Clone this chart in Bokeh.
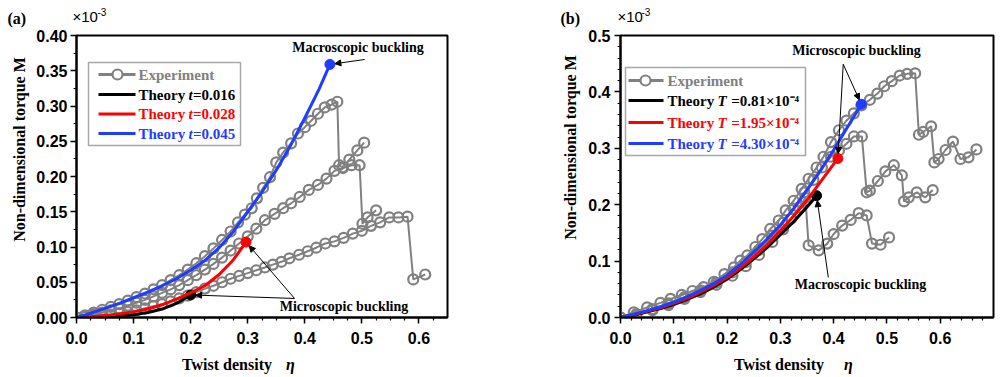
import math
from bokeh.plotting import figure
from bokeh.models import (Range1d, SingleIntervalTicker, PrintfTickFormatter, Label,
                          BoxAnnotation, Arrow, NormalHead)
from bokeh.layouts import row, column
from bokeh.embed import file_html
from bokeh.resources import INLINE

GREY = "#808080"
RED = "#ff0000"
BLUE = "#1f3cff"
BLACK = "#000000"
SERIF = "Liberation Serif"
SANS = "Liberation Sans"

# ---------------- Panel (a) data ----------------
a_exp1_x = [0, .015, .03, .045, .06, .075, .09, .105, .12, .135, .15, .165, .18, .195, .21,
            .225, .24, .255, .27, .283, .295, .307, .316, .327, .339, .350, .362, .376, .388, .400,
            .411, .423, .435, .447, .457, .460, .466, .478, .492, .504]
a_exp1_y = [0, .003, .007, .011, .015, .019, .024, .029, .034, .040, .046, .053, .060, .068, .077,
            .087, .098, .110, .122, .135, .146, .155, .169, .184, .199, .220, .234, .247, .261, .270,
            .279, .289, .298, .302, .306, .216, .213, .224, .237, .248]
a_exp2_x = [0, .015, .03, .045, .06, .075, .09, .105, .12, .135, .15, .165, .18, .195, .21,
            .225, .24, .255, .27, .285, .30, .315, .330, .347, .362, .376, .391, .407, .423, .438,
            .452, .467, .482, .496, .501, .510, .525]
a_exp2_y = [0, .002, .004, .007, .010, .013, .017, .021, .025, .030, .035, .040, .046, .053, .060,
            .068, .076, .085, .095, .105, .115, .126, .138, .147, .155, .162, .171, .181, .188, .197,
            .208, .212, .216, .216, .133, .142, .152]
a_exp3_x = [0, .015, .03, .045, .06, .075, .09, .105, .12, .135, .15, .165, .18, .195, .21,
            .225, .24, .255, .27, .285, .300, .315, .330, .344, .359, .373, .390, .405, .420, .436,
            .452, .468, .484, .500, .516, .532, .548, .564, .580, .590, .611]
a_exp3_y = [0, .001, .002, .003, .004, .006, .008, .010, .013, .016, .019, .023, .027, .031, .036,
            .041, .045, .050, .055, .059, .063, .067, .071, .075, .079, .084, .089, .094, .099, .105,
            .108, .113, .119, .123, .130, .135, .142, .142, .143, .054, .061]

a_blue_x = [0, .025, .05, .075, .1, .125, .15, .175, .2, .225, .25, .275, .3, .325, .35, .375, .4, .425, .444]
a_blue_y = [0, .006, .013, .020, .028, .036, .045, .055, .067, .081, .099, .122, .150, .178, .209, .244, .283, .324, .359]
a_red_x = [0, .025, .05, .075, .1, .125, .15, .175, .2, .225, .25, .275, .297]
a_red_y = [0, .001, .003, .005, .008, .012, .018, .026, .035, .045, .061, .082, .107]
a_black_x = [0, .025, .05, .075, .1, .125, .15, .175, .2]
a_black_y = [0, .000, .001, .002, .004, .007, .012, .020, .032]
a_labels = ["Theory", "t", "=0.016", "=0.028", "=0.045"]

# ---------------- Panel (b) data ----------------
b_exp1_x = [0, .025, .05, .075, .094, .115, .135, .156, .175, .195, .213, .225, .238, .253, .266,
            .281, .297, .310, .325, .340, .353, .368, .381, .395, .410, .424, .438, .452, .468, .482,
            .495, .509, .524, .538, .553, .560, .568, .583, .589, .597, .610, .624, .638, .653, .668]
b_exp1_y = [0, .009, .018, .026, .033, .040, .047, .054, .063, .077, .089, .101, .110, .125, .139,
            .157, .172, .190, .207, .228, .246, .266, .285, .311, .332, .349, .362, .376, .386, .397,
            .410, .419, .429, .432, .433, .324, .329, .339, .275, .281, .297, .312, .281, .284, .298]
b_exp2_x = [0, .03, .06, .09, .12, .15, .18, .21, .235, .26, .285, .305, .325, .345, .362,
            .378, .395, .410, .424, .438, .453, .462, .468, .483, .497, .513, .528, .532, .541, .556,
            .572, .586]
b_exp2_y = [0, .006, .015, .025, .036, .048, .062, .080, .098, .120, .145, .168, .193, .222, .244,
            .266, .285, .296, .308, .321, .321, .222, .225, .242, .259, .270, .252, .206, .213, .222,
            .213, .226]
b_exp3_x = [0, .03, .06, .09, .12, .15, .18, .21, .235, .26, .285, .305, .32, .335, .347,
            .353, .372, .388, .400, .416, .432, .447, .462, .472, .488, .504]
b_exp3_y = [0, .005, .013, .022, .033, .045, .058, .074, .091, .111, .134, .156, .175, .195, .212,
            .128, .119, .131, .148, .163, .173, .185, .181, .131, .129, .142]

b_blue_x = [0, .025, .05, .075, .1, .125, .15, .175, .2, .225, .25, .275, .3, .325, .35, .375, .4, .425, .452]
b_blue_y = [0, .006, .012, .019, .027, .037, .048, .060, .075, .094, .116, .139, .164, .193, .226, .260, .297, .336, .378]
b_red_x = [0, .025, .05, .075, .1, .125, .15, .175, .2, .225, .25, .275, .3, .325, .35, .375, .408]
b_red_y = [0, .005, .011, .017, .025, .034, .045, .057, .071, .088, .107, .129, .154, .180, .208, .240, .282]
b_black_x = [0, .025, .05, .075, .1, .125, .15, .175, .2, .225, .25, .275, .3, .325, .35, .368]
b_black_y = [0, .004, .010, .016, .023, .032, .042, .054, .068, .085, .104, .124, .147, .170, .196, .216]
b_labels = ["Theory", "T", "\u00a0=0.81×10⁻⁴", "\u00a0=1.95×10⁻⁴", "\u00a0=4.30×10⁻⁴"]

MAIN_H = 322  # 7 top + 282 frame + 33 bottom


def make_fig(width, xmax, ymax, xint, xminor, yint, yminor, yfmt, left, right, ystand):
    p = figure(width=width, height=MAIN_H, x_range=Range1d(0, xmax), y_range=Range1d(0, ymax),
               output_backend="svg", toolbar_location=None,
               min_border_left=left, min_border_right=right,
               min_border_top=7, min_border_bottom=33)
    p.xgrid.visible = False
    p.ygrid.visible = False
    p.outline_line_color = "black"
    p.outline_line_width = 2
    p.outline_line_alpha = 1
    p.background_fill_color = "white"
    p.border_fill_color = "white"
    p.xaxis.ticker = SingleIntervalTicker(interval=xint, num_minor_ticks=xminor)
    p.yaxis.ticker = SingleIntervalTicker(interval=yint, num_minor_ticks=yminor)
    p.xaxis.formatter = PrintfTickFormatter(format="%.1f")
    p.yaxis.formatter = PrintfTickFormatter(format=yfmt)
    for ax in (p.xaxis[0], p.yaxis[0]):
        ax.axis_line_width = 2
        ax.axis_line_color = "black"
        ax.major_tick_in = 0
        ax.major_tick_out = 6
        ax.minor_tick_in = 0
        ax.minor_tick_out = 3
        ax.major_tick_line_width = 1.5
        ax.minor_tick_line_width = 1.2
        ax.major_tick_line_color = "black"
        ax.minor_tick_line_color = "black"
        ax.major_label_text_font = SANS
        ax.major_label_text_font_style = "bold"
        ax.major_label_text_font_size = "16px"
        ax.major_label_text_color = "black"
    p.xaxis.major_label_standoff = 8
    p.yaxis.major_label_standoff = ystand
    return p


def text_fig(width, height):
    f = figure(width=width, height=height, x_range=Range1d(0, width), y_range=Range1d(0, height),
               output_backend="svg", toolbar_location=None, title=None,
               x_axis_type=None, y_axis_type=None, min_border=0)
    f.xgrid.visible = False
    f.ygrid.visible = False
    f.outline_line_color = None
    f.background_fill_color = "white"
    f.border_fill_color = "white"
    return f


def lab(p, x, y, text, size="15px", color="black", style="bold", font=SERIF,
        align="left", angle=0.0):
    p.add_layout(Label(x=x, y=y, x_units="screen", y_units="screen", text=text,
                       text_font=font, text_font_style=style, text_font_size=size,
                       text_color=color, text_align=align, text_baseline="middle",
                       angle=angle))


def sbox(p, l, r, b, t, fill="white", line=None, lw=1.0, radius=0, falpha=1.0):
    p.add_layout(BoxAnnotation(left=l, right=r, bottom=b, top=t,
                               left_units="screen", right_units="screen",
                               bottom_units="screen", top_units="screen",
                               fill_color=fill, fill_alpha=falpha,
                               line_color=line, line_width=lw, line_alpha=1 if line else 0,
                               border_radius=radius))


def arrow(p, x0, y0, x1, y1, sx, sy, gap=5):
    dx = (x0 - x1) * sx
    dy = (y0 - y1) * sy
    d = math.hypot(dx, dy)
    xe = x1 + (x0 - x1) * gap / d
    ye = y1 + (y0 - y1) * gap / d
    p.add_layout(Arrow(end=NormalHead(size=6, fill_color="black", line_color="black", line_width=1),
                       x_start=x0, y_start=y0, x_end=xe, y_end=ye,
                       line_color="black", line_width=1))


def draw_exp(p, xs, ys):
    p.line(xs, ys, line_color=GREY, line_width=2)
    p.scatter(xs, ys, marker="circle", size=10, line_color=GREY, line_width=2.2,
              fill_alpha=0)


def draw_theory(p, xs, ys, color):
    p.line(xs, ys, line_color=color, line_width=3)
    p.scatter([xs[-1]], [ys[-1]], marker="circle", size=10, fill_color=color,
              line_color=color)


def legend(p, l, r, b, t, rows, x_line0, x_line1, x_circ, x_text, labels, w_theory, w_sym):
    sbox(p, l, r, b, t, fill="white", line="#a8a8a8", lw=1.5)
    colors = [GREY, BLACK, RED, BLUE]
    for i, (yy, c) in enumerate(zip(rows, colors)):
        sbox(p, x_line0, x_line1, yy - 1.5, yy + 1.5, fill=c)
        if i == 0:
            sbox(p, x_circ - 5, x_circ + 5, yy - 5, yy + 5, fill="white", line=GREY,
                 lw=2.2, radius=5)
            lab(p, x_text, yy, "Experiment", color=GREY)
        else:
            lab(p, x_text, yy, labels[0], color=c)
            lab(p, x_text + w_theory, yy, labels[1], color=c, style="bold italic")
            lab(p, x_text + w_theory + w_sym, yy, labels[1 + i], color=c)


# ---------------- Panel (a) ----------------
pa = make_fig(524, 0.65, 0.40, 0.1, 4, 0.05, 2, "%.2f", 44, 109, 3)
draw_exp(pa, a_exp1_x, a_exp1_y)
draw_exp(pa, a_exp2_x, a_exp2_y)
draw_exp(pa, a_exp3_x, a_exp3_y)
draw_theory(pa, a_black_x, a_black_y, BLACK)
draw_theory(pa, a_red_x, a_red_y, RED)
draw_theory(pa, a_blue_x, a_blue_y, BLUE)
sxa, sya = 371 / 0.65, 282 / 0.40
arrow(pa, 0.505, 0.366, a_blue_x[-1], a_blue_y[-1], sxa, sya)
arrow(pa, 0.382, 0.027, a_red_x[-1], a_red_y[-1], sxa, sya)
arrow(pa, 0.382, 0.027, a_black_x[-1], a_black_y[-1], sxa, sya)
lab(pa, 281.5, 270, "Macroscopic buckling", size="14px", align="center")
lab(pa, 267.5, 11, "Microscopic buckling", size="14px", align="center")
legend(pa, 12, 164, 172, 255, [243, 223, 203.5, 184], 22, 59, 41, 62, a_labels, 50, 4.5)

# ---------------- Panel (b) ----------------
pb = make_fig(412, 0.7, 0.5, 0.1, 5, 0.1, 5, "%.1f", 36, 3, 4)
draw_exp(pb, b_exp1_x, b_exp1_y)
draw_exp(pb, b_exp2_x, b_exp2_y)
draw_exp(pb, b_exp3_x, b_exp3_y)
draw_theory(pb, b_black_x, b_black_y, BLACK)
draw_theory(pb, b_red_x, b_red_y, RED)
draw_theory(pb, b_blue_x, b_blue_y, BLUE)
sxb, syb = 373 / 0.7, 282 / 0.5
arrow(pb, 0.418, 0.449, b_blue_x[-1], b_blue_y[-1], sxb, syb)
arrow(pb, 0.418, 0.449, b_red_x[-1], b_red_y[-1], sxb, syb)
arrow(pb, 0.390, 0.071, b_black_x[-1], b_black_y[-1], sxb, syb)
lab(pb, 236, 267, "Microscopic buckling", size="14px", align="center")
lab(pb, 240, 33, "Macroscopic buckling", size="14px", align="center")
legend(pb, 5, 185, 162, 250, [237, 217, 195, 174], 8, 43, 25, 47, b_labels, 50, 10)

# ---------------- Text strips (outside the plot frames) ----------------
# header: page y 0..28
hdr = text_fig(996, 28)
lab(hdr, 7, 10, "(a)", size="16px")
lab(hdr, 72, 12, "×10", size="15px", style="normal", font=SANS)
lab(hdr, 97, 17, "-3", size="10px", style="normal", font=SANS)
lab(hdr, 560, 10, "(b)", size="16px")
lab(hdr, 617, 12, "×10", size="15px", style="normal", font=SANS)
lab(hdr, 641, 17, "-3", size="10px", style="normal", font=SANS)

# y-label strips: page y 28..350 (one rotated label each, centre-anchored)
YLABEL = "Non-dimensional torque  M"
yla = text_fig(32, MAIN_H)
lab(yla, 19, 170, YLABEL, size="16px", align="center", angle=math.pi / 2)
ylb = text_fig(28, MAIN_H)
lab(ylb, 14, 172, YLABEL, size="16px", align="center", angle=math.pi / 2)

# footer: page y 350..375 (centre-anchored)
ftr = text_fig(996, 25)
lab(ftr, 226.5, 11, "Twist density", size="16px", align="center")
lab(ftr, 290, 11, "η", size="16px", style="bold italic", align="center")
lab(ftr, 778.5, 11, "Twist density", size="16px", align="center")
lab(ftr, 848, 11, "η", size="16px", style="bold italic", align="center")

layout = column(hdr, row(yla, pa, ylb, pb), ftr)
open("out.html", "w").write(file_html(layout, INLINE))
